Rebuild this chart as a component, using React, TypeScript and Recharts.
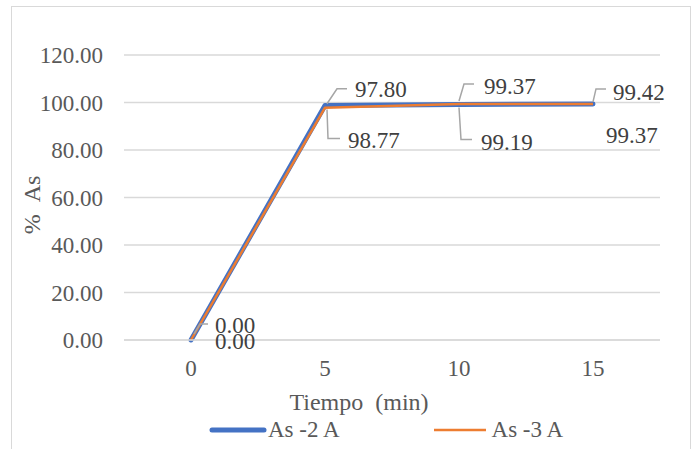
import React from "react";
import { LineChart, Line, XAxis, YAxis, CartesianGrid, LabelList, Label } from "recharts";

const categories = ["0", "5", "10", "15"];
const as2A = [0, 98.77, 99.19, 99.37];
const as3A = [0, 97.8, 99.37, 99.42];
const yTicks = [0, 20, 40, 60, 80, 100, 120];

const data = categories.map((t, i) => ({ t, a2: as2A[i], a3: as3A[i] }));

const FONT = "Liberation Serif, Times New Roman, serif";
const BLUE = "#4472C4";
const ORANGE = "#ED7D31";
const GRID = "#d9d9d9";
const TICK = "#595959";
const LABEL = "#404040";
const LEADER = "#a6a6a6";

// label offsets relative to the point (text left / text middle / leader polyline)
type LabelLayout = { tx: number; ty: number; leader?: number[][] };
const upperLayout: LabelLayout[] = [
  { tx: 24, ty: -15, leader: [[3, -6], [9, -16], [17, -16]] },
  { tx: 30, ty: -19, leader: [[2, -4], [12, -19], [22, -19]] },
  { tx: 25, ty: -18, leader: [[0, -3], [5, -20], [15, -20]] },
  { tx: 20, ty: -12, leader: [[0, -2], [3, -15], [13, -15]] },
];
const lowerLayout: LabelLayout[] = [
  { tx: 24, ty: 1 },
  { tx: 23, ty: 35, leader: [[2, 4], [3, 33], [15, 33]] },
  { tx: 22, ty: 38, leader: [[0, 3], [2, 35], [13, 35]] },
  { tx: 13, ty: 31 },
];

function makeLabel(layout: LabelLayout[]) {
  return function DataLabel(props: any) {
    const { x, y, value, index } = props;
    const l = layout[index];
    if (!l || x == null || y == null) return null;
    return (
      <g>
        {l.leader && (
          <polyline
            points={l.leader.map(([dx, dy]) => `${x + dx},${y + dy}`).join(" ")}
            fill="none"
            stroke={LEADER}
            strokeWidth={1.5}
          />
        )}
        <text x={x + l.tx} y={y + l.ty} dy="0.35em" fontSize={23} fill={LABEL} style={{ fontFamily: FONT }}>
          {Number(value).toFixed(2)}
        </text>
      </g>
    );
  };
}

const UpperLabel = makeLabel(upperLayout);
const LowerLabel = makeLabel(lowerLayout);

export default function App() {
  return (
    <div style={{ position: "absolute", left: 0, top: 0, width: 698, height: 449, overflow: "hidden", background: "#fff", fontFamily: FONT }}>
      <div style={{ position: "absolute", left: 11, top: 6, width: 678, height: 470, border: `1.5px solid ${GRID}` }} />
      <LineChart width={698} height={449} data={data} margin={{ top: 55, right: 38, bottom: 79, left: 44 }} style={{ position: "absolute", left: 0, top: 0 }}>
        <CartesianGrid vertical={false} stroke={GRID} strokeWidth={1.5} />
        <XAxis
          dataKey="t"
          height={30}
          padding={{ left: 67, right: 67 }}
          tickLine={false}
          axisLine={{ stroke: GRID, strokeWidth: 1.5 }}
          tick={{ fontSize: 23, fill: TICK, style: { fontFamily: FONT } }}
          tickMargin={14}
        >
          <Label
            content={() => (
              <text x={359} y={402} dy="0.35em" textAnchor="middle" fontSize={24} fill={TICK} style={{ fontFamily: FONT }}>
                {"Tiempo\u00a0\u00a0(min)"}
              </text>
            )}
          />
        </XAxis>
        <YAxis
          width={80}
          domain={[0, 120]}
          ticks={yTicks}
          interval={0}
          axisLine={false}
          tickLine={false}
          tickMargin={15}
          tickFormatter={(v: number) => v.toFixed(2)}
          tick={{ fontSize: 23, fill: TICK, style: { fontFamily: FONT } }}
        >
          <Label
            content={() => (
              <text x={32} y={205} dy="0.35em" textAnchor="middle" fontSize={24} fill={TICK} style={{ fontFamily: FONT }} transform="rotate(-90, 32, 205)">
                {"%\u00a0\u00a0As"}
              </text>
            )}
          />
        </YAxis>
        <Line dataKey="a2" stroke={BLUE} strokeWidth={5} strokeLinecap="round" strokeLinejoin="round" dot={false} isAnimationActive={false}>
          <LabelList dataKey="a2" content={LowerLabel} />
        </Line>
        <Line dataKey="a3" stroke={ORANGE} strokeWidth={2.5} strokeLinejoin="round" dot={false} isAnimationActive={false}>
          <LabelList dataKey="a3" content={UpperLabel} />
        </Line>
      </LineChart>
      <div style={{ position: "absolute", left: 208, top: 416, display: "flex", alignItems: "center", fontSize: 23, color: TICK, lineHeight: "28px" }}>
        <svg width={60} height={10}>
          <line x1={4} y1={5} x2={56} y2={5} stroke={BLUE} strokeWidth={5} strokeLinecap="round" />
        </svg>
        <span>As -2 A</span>
        <svg width={60} height={10} style={{ marginLeft: 90 }}>
          <line x1={4} y1={5} x2={56} y2={5} stroke={ORANGE} strokeWidth={2.5} />
        </svg>
        <span style={{ marginLeft: 2 }}>As -3 A</span>
      </div>
    </div>
  );
}
